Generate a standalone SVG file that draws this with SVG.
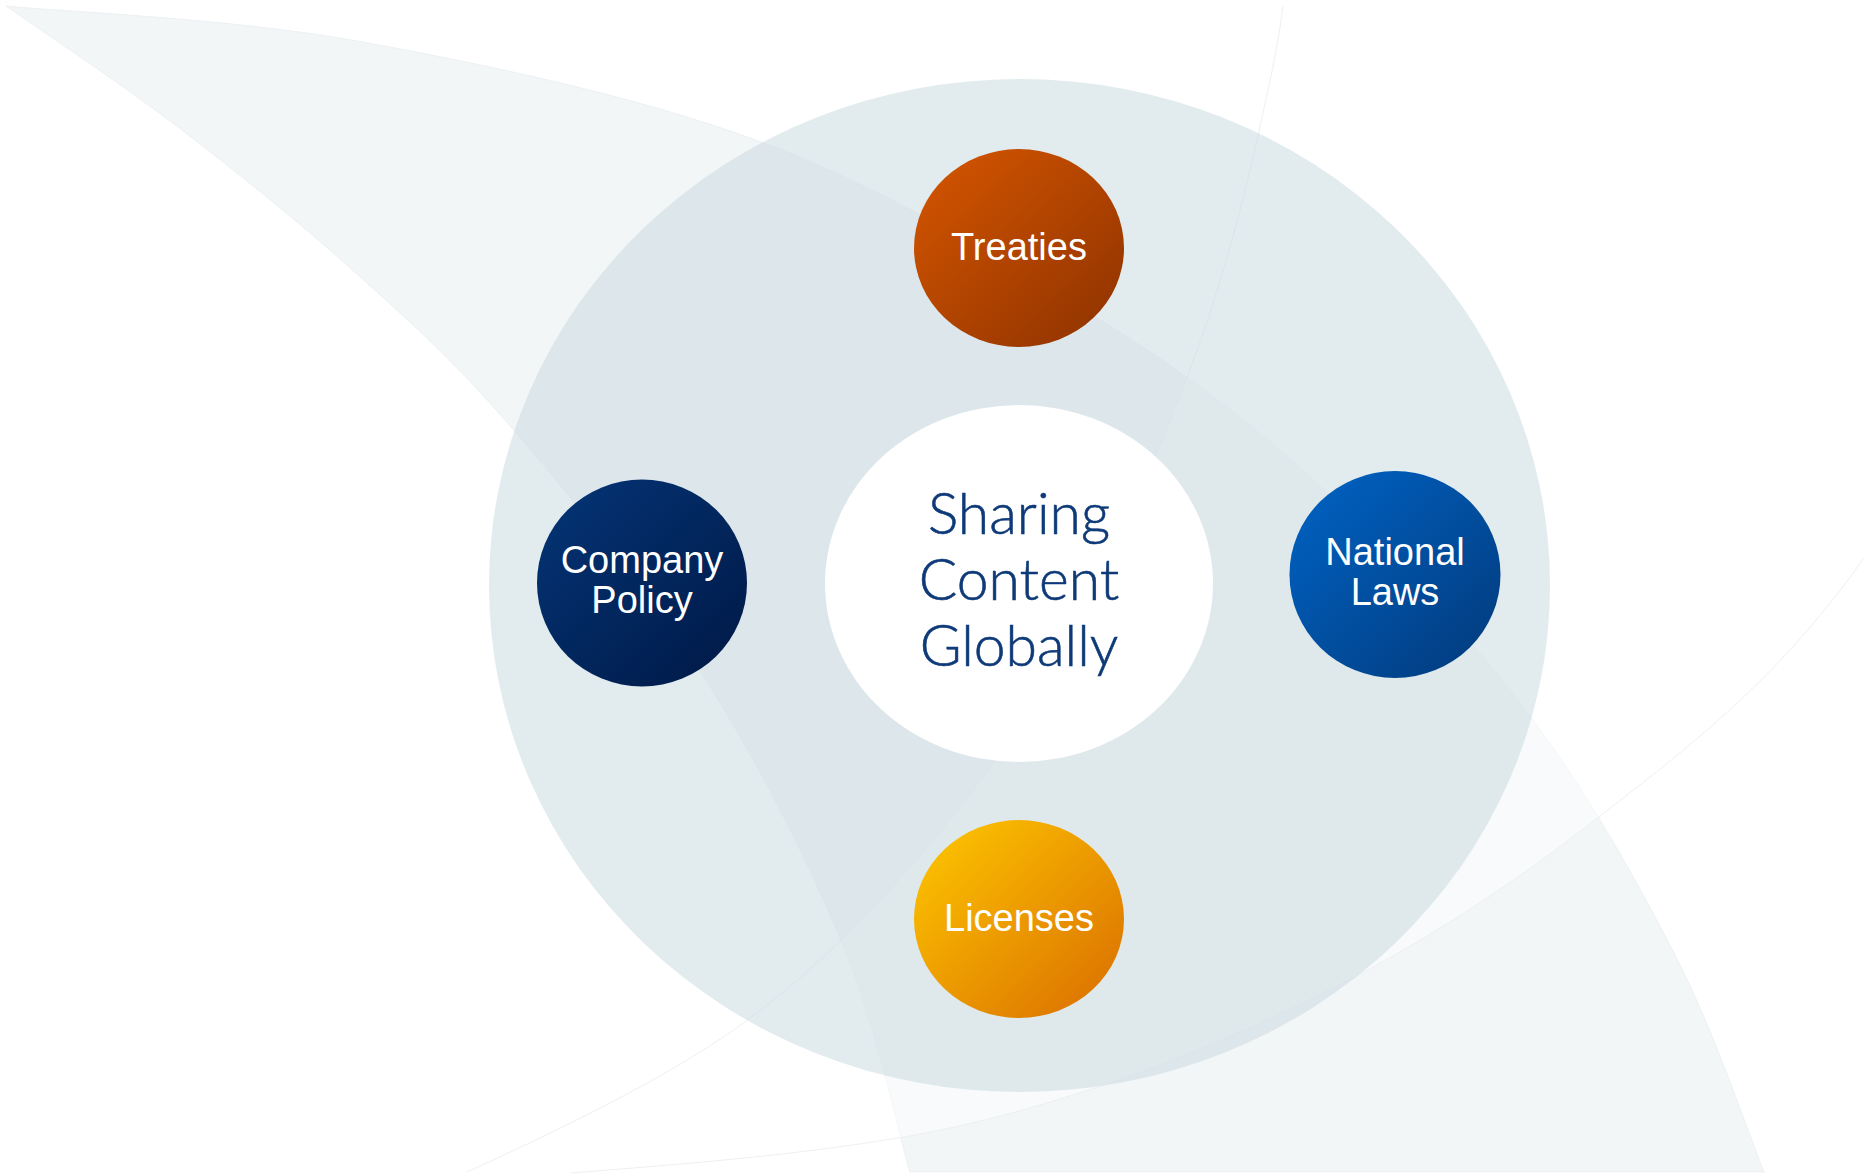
<svg xmlns="http://www.w3.org/2000/svg" width="1864" height="1175" viewBox="0 0 1864 1175">
  <style>
    .lbl { font-family: "Liberation Sans", Arial, sans-serif; font-size: 38px; fill: #ffffff; text-anchor: middle; }
    .hubtxt { font-family: Lato, "Open Sans", sans-serif; font-weight: 300; font-size: 57px; fill: #0e3a78; text-anchor: middle; stroke: #0e3a78; stroke-width: 0.6; }
    .edge { fill: none; stroke: #edf0f2; stroke-width: 1; }
  </style>
  <defs>
    <linearGradient id="gTreaties" x1="0" y1="0" x2="1" y2="1">
      <stop offset="0" stop-color="#d75700"/>
      <stop offset="1" stop-color="#8c3100"/>
    </linearGradient>
    <linearGradient id="gCompany" x1="0" y1="0" x2="1" y2="1">
      <stop offset="0" stop-color="#043577"/>
      <stop offset="1" stop-color="#001845"/>
    </linearGradient>
    <linearGradient id="gNational" x1="0" y1="0" x2="1" y2="1">
      <stop offset="0" stop-color="#0064c6"/>
      <stop offset="1" stop-color="#02397a"/>
    </linearGradient>
    <linearGradient id="gLicenses" x1="0" y1="0" x2="1" y2="1">
      <stop offset="0" stop-color="#ffc900"/>
      <stop offset="1" stop-color="#d96c00"/>
    </linearGradient>
  </defs>

  <g id="background">
    <rect x="0" y="0" width="1864" height="1175" fill="#ffffff"/>
    <path id="swoosh-a" d="M6,6 C64.5,11.8 231.2,18.3 357,41 C482.8,63.7 638.5,96.3 761,142 C883.5,187.7 999.2,258 1092,315 C1184.8,372 1245.5,417.8 1318,484 C1390.5,550.2 1467.5,633.5 1527,712 C1586.5,790.5 1635.5,878.3 1675,955 C1714.5,1031.7 1749.2,1135.8 1764,1172 L910,1172 C898.5,1133.3 875.7,1023 841,940 C806.3,857 757,759.5 702,674 C647,588.5 568.5,493.7 511,427 C453.5,360.3 412.5,324 357,274 C301.5,224 236.5,171.7 178,127 C119.5,82.3 34.7,26.2 6,6 Z" fill="#f2f6f7" stroke="#e9eef0" stroke-width="0.8"/>
    <path id="swoosh-b" d="M1880,535 C1867.3,552.8 1854.7,571.5 1842,588 C1759.7,695 1677.3,755.8 1595,820 C1516.7,881.1 1438.3,932.5 1360,974 C1272.7,1020.3 1185.3,1058.2 1098,1087 C1033.3,1108.3 968.7,1126 904,1137 C793,1155.9 682,1164.1 571,1173 L467,1172 C579.2,1121 680.1,1070 749,1019 C802.6,979.3 842.3,939.7 880,900 C918.7,859.3 951.5,818.7 982,778 C1032.5,710.7 1061,643.3 1098,576 C1134.9,509 1162.5,442 1188,375 C1218.9,293.7 1241.1,212.3 1259,131 C1268.2,89.3 1278,47.7 1283,6 L1880,6 Z" fill="#ffffff" fill-opacity="0.45"/>
    <path class="edge" d="M1283,6 C1278,47.7 1268.2,89.3 1259,131 C1241.1,212.3 1218.9,293.7 1188,375 C1162.5,442 1134.9,509 1098,576 C1061,643.3 1032.5,710.7 982,778 C951.5,818.7 918.7,859.3 880,900 C842.3,939.7 802.6,979.3 749,1019 C680.1,1070 579.2,1121 467,1172"/>
    <path class="edge" d="M1880,535 C1867.3,552.8 1854.7,571.5 1842,588 C1759.7,695 1677.3,755.8 1595,820 C1516.7,881.1 1438.3,932.5 1360,974 C1272.7,1020.3 1185.3,1058.2 1098,1087 C1033.3,1108.3 968.7,1126 904,1137 C793,1155.9 682,1164.1 571,1173"/>
  </g>

  <g id="hub">
    <ellipse cx="1019.5" cy="585.5" rx="530.5" ry="506.5" fill="#cfdde2" fill-opacity="0.6"/>
    <ellipse cx="1019" cy="583.5" rx="194" ry="178.5" fill="#ffffff"/>
    <text class="hubtxt" x="1019" y="534">Sharing</text>
    <text class="hubtxt" x="1019" y="600">Content</text>
    <text class="hubtxt" x="1019" y="666">Globally</text>
  </g>

  <g id="connectors"/>

  <g id="node-treaties">
    <ellipse cx="1019" cy="248" rx="105" ry="99" fill="url(#gTreaties)"/>
    <text class="lbl" x="1019" y="260">Treaties</text>
  </g>
  <g id="node-company-policy">
    <ellipse cx="642" cy="583" rx="105" ry="103.5" fill="url(#gCompany)"/>
    <text class="lbl" x="642" y="573">Company</text>
    <text class="lbl" x="642" y="613">Policy</text>
  </g>
  <g id="node-national-laws">
    <ellipse cx="1395" cy="574.5" rx="105.5" ry="103.5" fill="url(#gNational)"/>
    <text class="lbl" x="1395" y="565">National</text>
    <text class="lbl" x="1395" y="605">Laws</text>
  </g>
  <g id="node-licenses">
    <ellipse cx="1019" cy="919" rx="105" ry="99" fill="url(#gLicenses)"/>
    <text class="lbl" x="1019" y="931">Licenses</text>
  </g>
</svg>
